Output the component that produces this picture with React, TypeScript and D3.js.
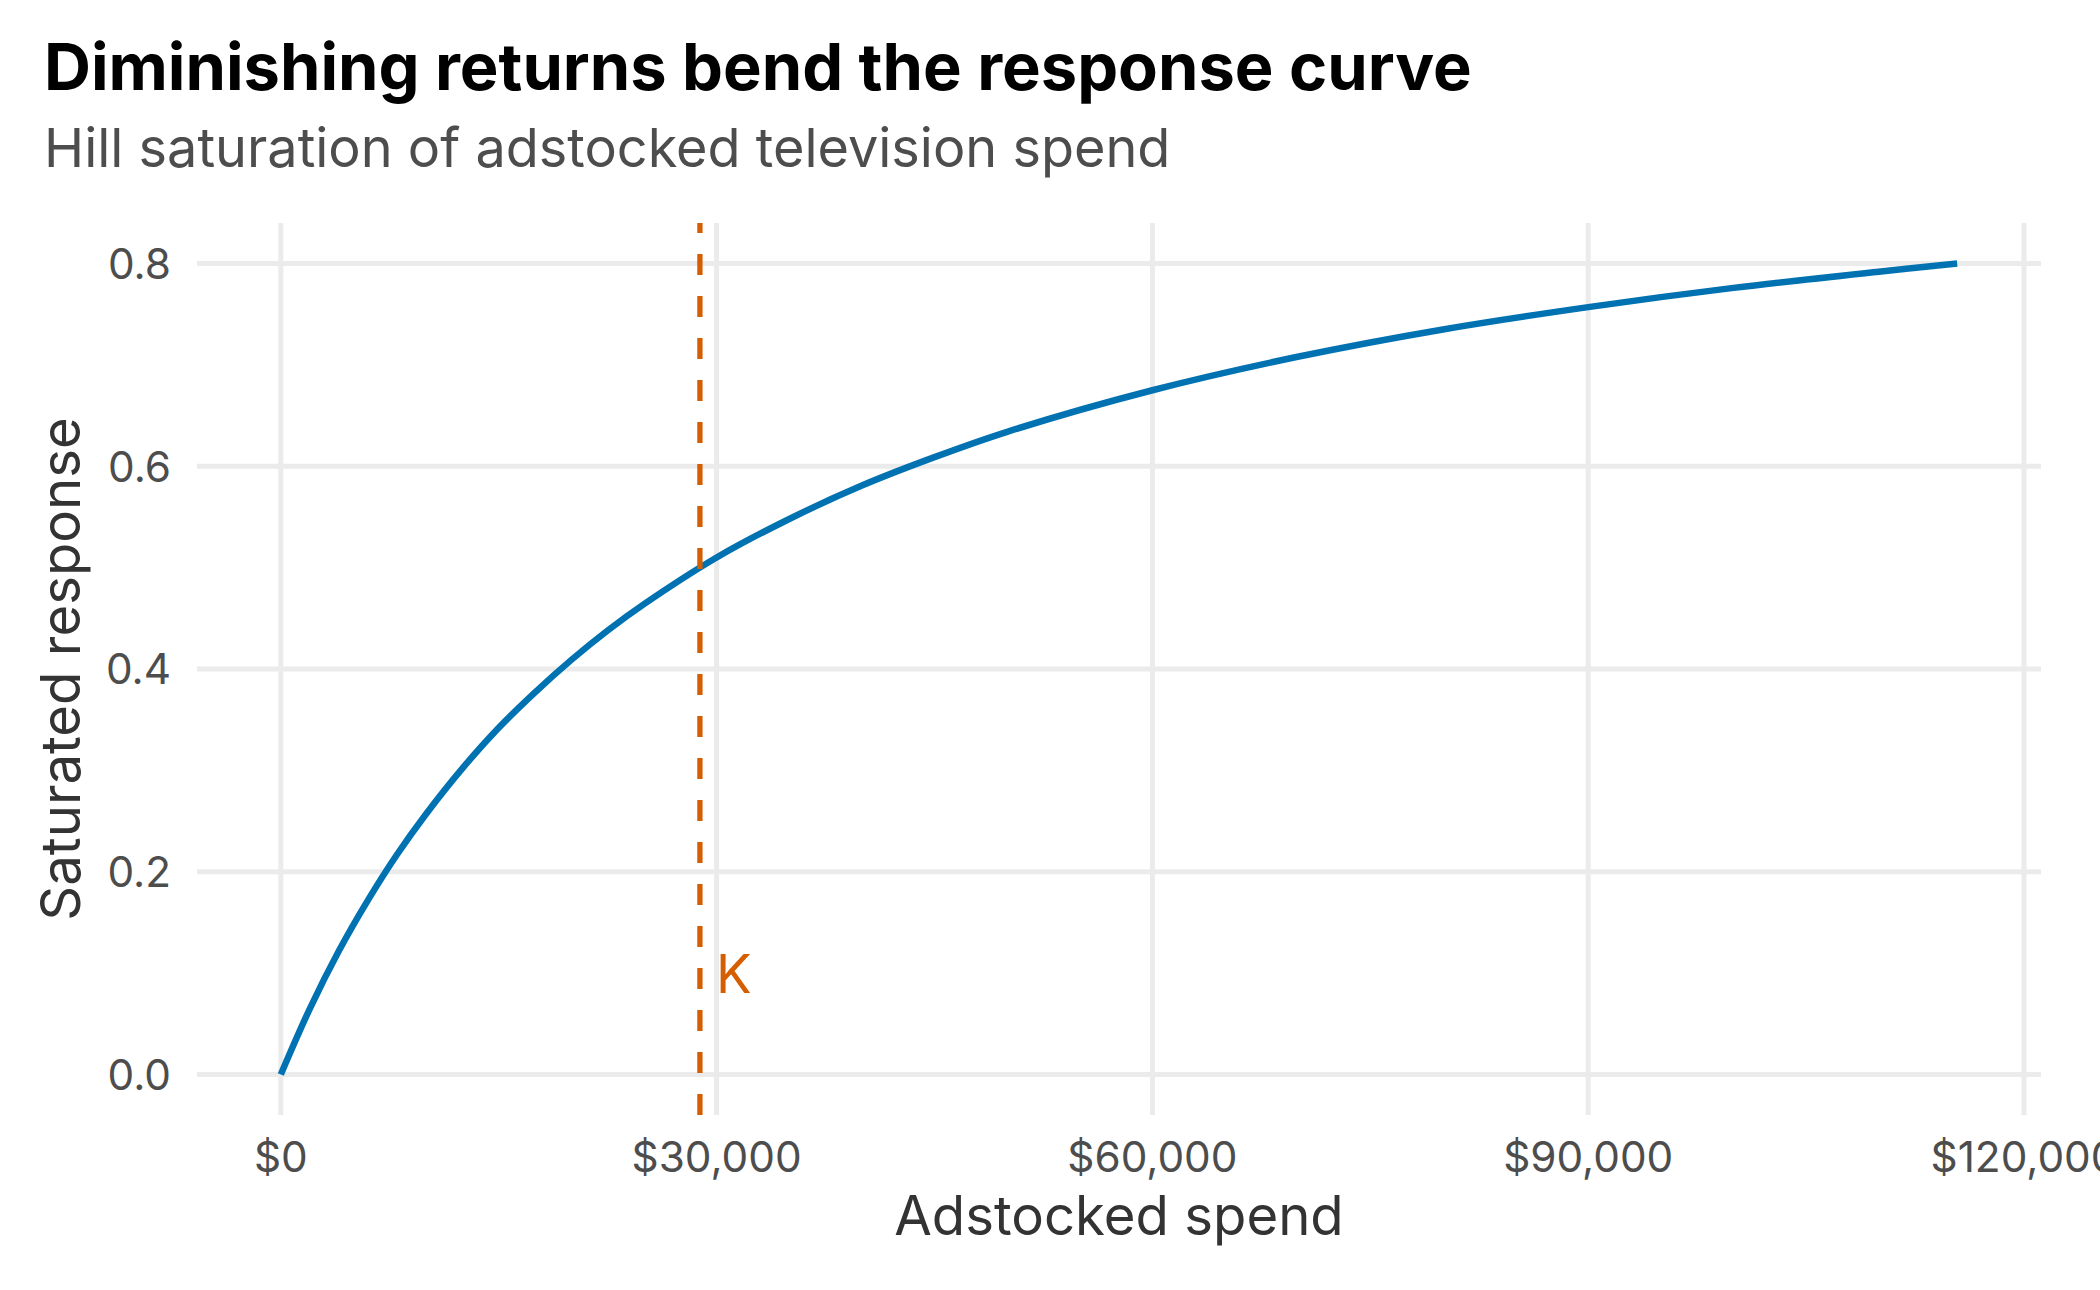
import React from 'react'
import * as d3 from 'd3'

// adstocked spend ($) and saturated response
const spend = [0, 2000, 4000, 6000, 8000, 10000, 12500, 15000, 17500, 20000, 22500, 25000, 30000, 35000, 40000, 45000, 50000, 60000, 70000, 80000, 90000, 100000, 110000, 115400]
const response = [0, 0.065, 0.122, 0.172, 0.217, 0.257, 0.302, 0.342, 0.377, 0.409, 0.438, 0.464, 0.51, 0.548, 0.581, 0.609, 0.634, 0.675, 0.708, 0.735, 0.757, 0.776, 0.792, 0.8]

const halfSat = 28850 // K
const kLabelY = 0.1

const xTicks = [0, 30000, 60000, 90000, 120000]
const yTicks = [0, 0.2, 0.4, 0.6, 0.8]

const title = 'Diminishing returns bend the response curve'
const subtitle = 'Hill saturation of adstocked television spend'
const xTitle = 'Adstocked spend'
const yTitle = 'Saturated response'

const W = 2100
const H = 1290
const margin = { top: 223, right: 59, bottom: 175, left: 197 }
const font = 'Inter, "Noto Sans", sans-serif'
const blue = '#0072B2'
const orange = '#D55E00'
const grid = '#EBEBEB'

export default function App() {
  const points = spend.map((x, i) => ({ x, y: response[i] }))

  const xMax = d3.max(spend) as number
  const yMax = d3.max(response) as number
  const xPad = xMax * 0.05
  const yPad = yMax * 0.05

  const x = d3.scaleLinear()
    .domain([-xPad, xMax + xPad])
    .range([margin.left, W - margin.right])
  const y = d3.scaleLinear()
    .domain([-yPad, yMax + yPad])
    .range([H - margin.bottom, margin.top])

  const line = d3.line<{ x: number, y: number }>()
    .x(d => x(d.x))
    .y(d => y(d.y))
    .curve(d3.curveCatmullRom.alpha(0.5))

  const [x0, x1] = x.range()
  const [y0, y1] = y.range()
  const fmt = (v: number) => '$' + d3.format(',')(v)

  return (
    <svg width={W} height={H} style={{ position: 'absolute', left: 0, top: 0, background: '#fff' }} fontFamily={font}>
      <rect width={W} height={H} fill="#fff" />

      <text x={44} y={90} fontSize={65} fontWeight={700} fill="#000">{title}</text>
      <text x={44} y={167} fontSize={54} fill="#4D4D4D">{subtitle}</text>

      <g>
        {yTicks.map(t => (
          <line key={'gy' + t} x1={x0} x2={x1} y1={y(t)} y2={y(t)} stroke={grid} strokeWidth={5} />
        ))}
        {xTicks.map(t => (
          <line key={'gx' + t} x1={x(t)} x2={x(t)} y1={y0} y2={y1} stroke={grid} strokeWidth={5} />
        ))}
      </g>

      <g fontSize={42.3} fill="#4D4D4D">
        {yTicks.map(t => (
          <text key={'ly' + t} x={x0 - 26} y={y(t)} dy="0.36em" textAnchor="end">{d3.format('.1f')(t)}</text>
        ))}
        {xTicks.map(t => (
          <text key={'lx' + t} x={x(t)} y={1172} textAnchor="middle">{fmt(t)}</text>
        ))}
      </g>

      <path d={line(points) ?? ''} fill="none" stroke={blue} strokeWidth={6.5} />

      <line x1={x(halfSat)} x2={x(halfSat)} y1={y0} y2={y1} stroke={orange} strokeWidth={5.3} strokeDasharray="21 21" />
      <text x={x(halfSat) + 16} y={y(kLabelY)} dy="0.38em" fontSize={53} fill={orange}>K</text>

      <text x={(x0 + x1) / 2} y={1235} textAnchor="middle" fontSize={54.5} fill="#333">{xTitle}</text>
      <text transform={`translate(80, ${(y0 + y1) / 2}) rotate(-90)`} textAnchor="middle" fontSize={54.5} fill="#333">{yTitle}</text>
    </svg>
  )
}
